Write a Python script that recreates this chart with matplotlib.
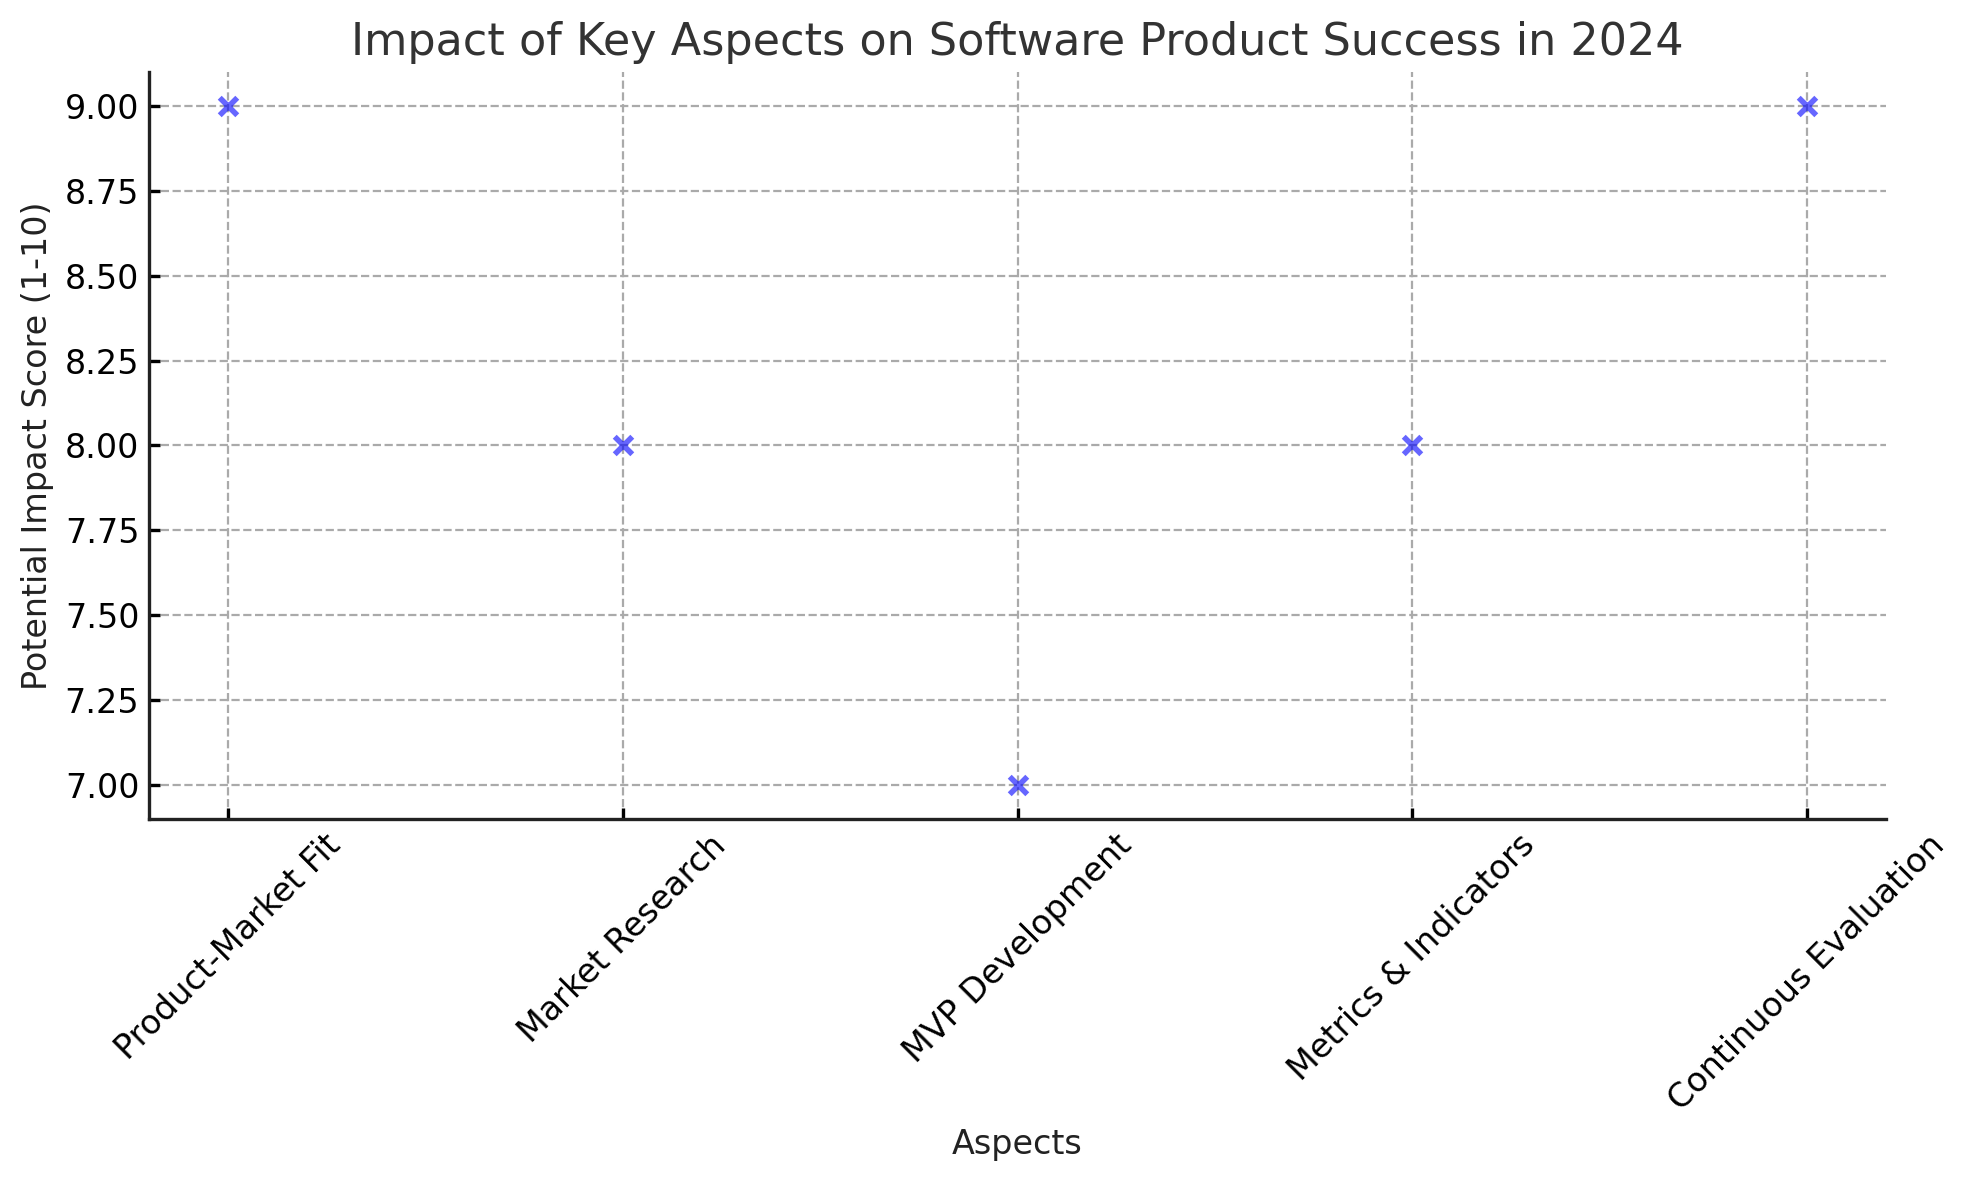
import numpy as np
import matplotlib.pyplot as plt

# data
aspects = ['Product-Market Fit', 'Market Research', 'MVP Development',
           'Metrics & Indicators', 'Continuous Evaluation']
impact_scores = [9, 8, 7, 8, 9]

fig = plt.figure(figsize=(9.855, 5.9), dpi=200)
ax = fig.add_axes([0.0756, 0.306, 0.8813, 0.633])

ax.scatter(aspects, impact_scores, marker='x', color='blue', alpha=0.6,
           s=40, linewidths=2, zorder=3)

ax.set_title('Impact of Key Aspects on Software Product Success in 2024',
             fontsize=16, color='#333333')
ax.set_xlabel('Aspects', fontsize=12, color='#222222')
ax.set_ylabel('Potential Impact Score (1-10)', fontsize=12, color='#222222')

ax.yaxis.set_major_formatter(plt.FormatStrFormatter('%.2f'))
ax.tick_params(direction='in', labelsize=12, length=4, width=1.2)
plt.setp(ax.get_xticklabels(), rotation=45)

ax.grid(True, linestyle='--', color='#aaaaaa', linewidth=0.8)
ax.set_axisbelow(True)
for side in ['top', 'right']:
    ax.spines[side].set_visible(False)
for side in ['left', 'bottom']:
    ax.spines[side].set_linewidth(1.2)
    ax.spines[side].set_color('#222222')

fig.savefig('out.png', dpi=200)
